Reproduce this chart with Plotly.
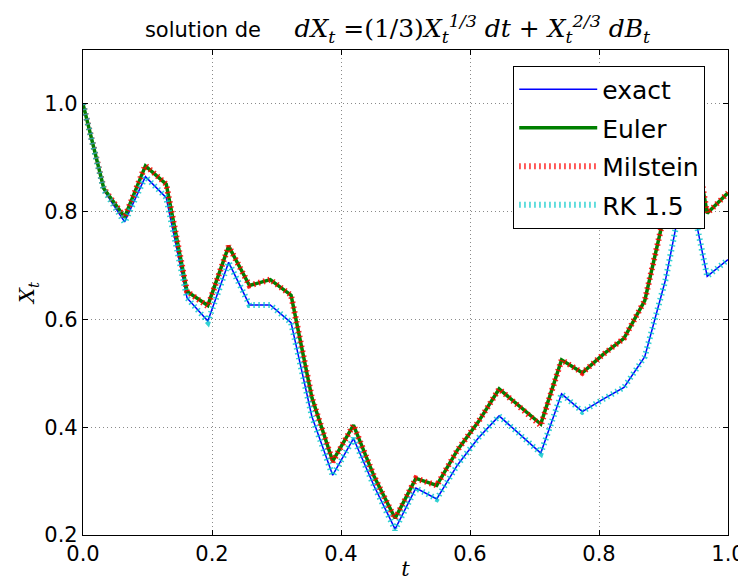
import plotly.graph_objects as go

# time grid: 32 points, t = k/31
t = [k / 31 for k in range(32)]

exact = [1.000, 0.840, 0.781, 0.865, 0.826, 0.640, 0.597, 0.706, 0.627, 0.627,
         0.594, 0.420, 0.311, 0.379, 0.290, 0.211, 0.287, 0.267, 0.330, 0.380,
         0.421, 0.386, 0.352, 0.462, 0.429, 0.452, 0.474, 0.531, 0.674, 0.870,
         0.680, 0.711]
euler = [1.000, 0.843, 0.790, 0.885, 0.851, 0.652, 0.626, 0.736, 0.663, 0.674,
         0.645, 0.455, 0.337, 0.404, 0.308, 0.231, 0.305, 0.292, 0.358, 0.410,
         0.471, 0.438, 0.406, 0.525, 0.501, 0.535, 0.565, 0.635, 0.805, 1.020,
         0.797, 0.835]
milstein = [1.000, 0.843, 0.789, 0.886, 0.851, 0.652, 0.624, 0.736, 0.663, 0.674,
            0.645, 0.455, 0.336, 0.404, 0.308, 0.230, 0.305, 0.292, 0.358, 0.410,
            0.471, 0.438, 0.403, 0.525, 0.501, 0.535, 0.565, 0.635, 0.805, 1.020,
            0.797, 0.835]
rk15 = [1.000, 0.840, 0.780, 0.865, 0.826, 0.640, 0.596, 0.706, 0.627, 0.627,
        0.594, 0.420, 0.310, 0.379, 0.290, 0.210, 0.287, 0.267, 0.330, 0.380,
        0.421, 0.386, 0.352, 0.462, 0.429, 0.452, 0.474, 0.531, 0.674, 0.870,
        0.680, 0.711]

x_ticks = [0.0, 0.2, 0.4, 0.6, 0.8, 1.0]
y_ticks = [0.2, 0.4, 0.6, 0.8, 1.0]

fig = go.Figure()
fig.add_trace(go.Scatter(x=t, y=exact, mode="lines", name="exact",
                         line=dict(color="#0000ff", width=1.5), legendgroup="a"))
fig.add_trace(go.Scatter(x=t, y=euler, mode="lines", name="Euler",
                         line=dict(color="#008000", width=3.5), legendgroup="b"))
fig.add_trace(go.Scatter(x=t, y=milstein, mode="lines", name="Milstein",
                         line=dict(color="#ff0000", width=6, dash="1.5px,3.5px"),
                         opacity=0.85, legendgroup="c"))
fig.add_trace(go.Scatter(x=t, y=rk15, mode="lines", name="RK 1.5",
                         line=dict(color="#00c8c8", width=6, dash="1.5px,3.5px"),
                         opacity=0.8, legendgroup="d"))

serif = "DejaVu Serif"
title_txt = ("solution de&nbsp;&nbsp;&nbsp;&nbsp;&nbsp;"
             "<span style='font-family:DejaVu Serif;font-size:25px'>"
             "<i>dX<sub>t</sub></i> =(1/3)<i>X<sub>t</sub><sup>1/3</sup> dt</i>"
             " + <i>X<sub>t</sub><sup>2/3</sup> dB<sub>t</sub></i></span>")

# page body has an 8px margin, so the figure is sized/offset to compensate
W, H = 738, 573
fig.update_layout(
    width=W, height=H,
    margin=dict(l=75, r=18, t=42, b=46),
    paper_bgcolor="white", plot_bgcolor="white",
    font=dict(family="DejaVu Sans", size=21, color="black"),
    title=dict(text=title_txt, x=0.096, xref="paper", xanchor="left",
               y=1 - 22 / H, yref="container", yanchor="middle",
               font=dict(family="DejaVu Sans", size=21, color="black")),
    showlegend=True,
    legend=dict(x=0.667, y=0.968, xanchor="left", yanchor="top",
                bgcolor="white", bordercolor="black", borderwidth=1,
                font=dict(family="DejaVu Sans", size=25, color="black"),
                itemwidth=78, tracegroupgap=3),
)

axis_common = dict(showline=True, linecolor="black", linewidth=1.2, mirror="allticks",
                   ticks="inside", ticklen=5, tickcolor="black",
                   showgrid=True, gridcolor="#8a8a8a", griddash="1px,3px", gridwidth=1,
                   zeroline=False, tickformat=".1f", automargin=False,
                   tickfont=dict(family="DejaVu Sans", size=21, color="black"))

fig.update_xaxes(range=[0, 1], tickvals=x_ticks,
                 title=dict(text="<i>t</i>", font=dict(family=serif, size=21), standoff=6),
                 **axis_common)
fig.update_yaxes(range=[0.2, 1.1], tickvals=y_ticks,
                 title=dict(text="<i>X<sub>t</sub></i>", font=dict(family=serif, size=21), standoff=3),
                 **axis_common)

fig.write_html("out.html")
